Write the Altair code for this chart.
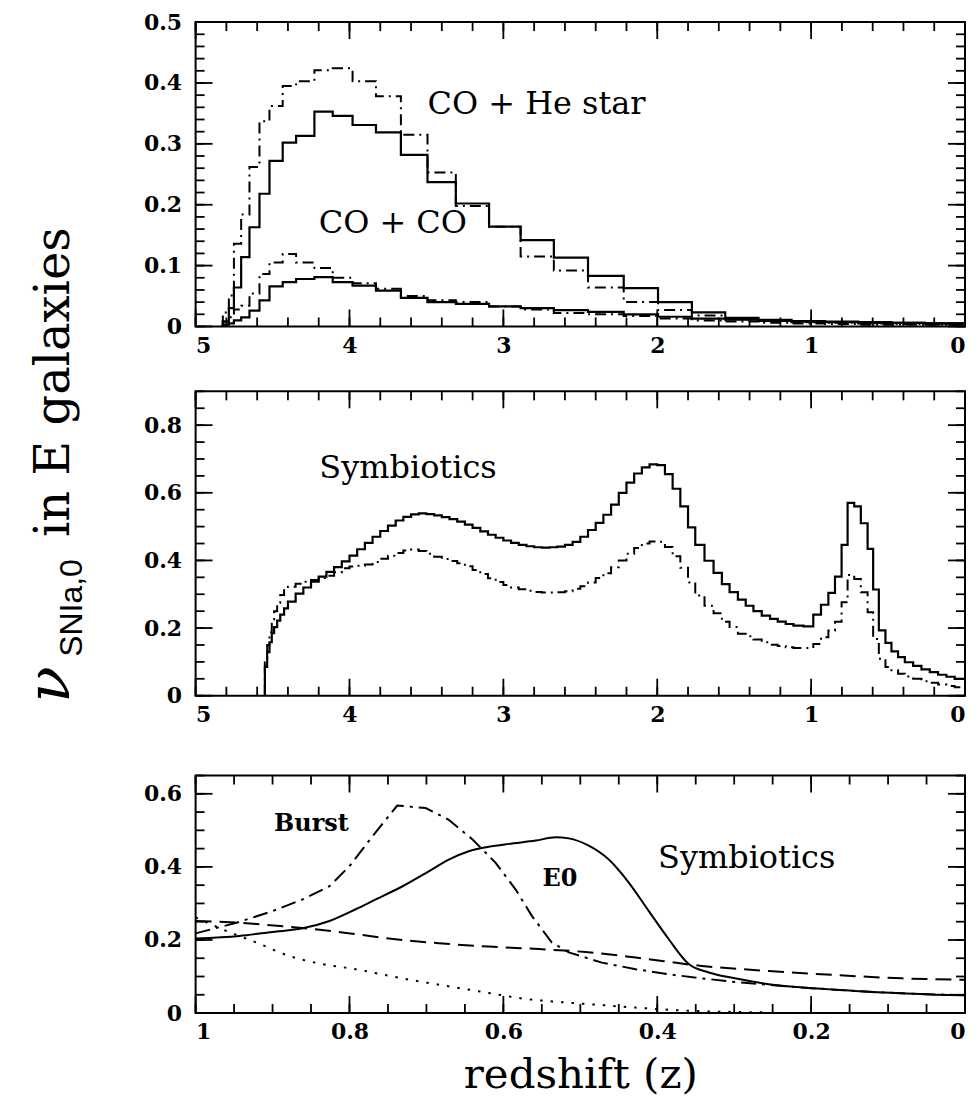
import altair as alt
import pandas as pd

# ---------------- data ----------------
# Panel 1 : histogram bin edges (redshift) and rates
P1_EDGES = [4.823, 4.784, 4.751, 4.704, 4.650, 4.585, 4.520, 4.434, 4.347, 4.228,
            4.109, 3.980, 3.828, 3.666, 3.493, 3.309, 3.093, 2.888, 2.672, 2.450,
            2.218, 1.995, 1.775, 1.558, 1.342, 1.127, 0.910, 0.694, 0.478, 0.262,
            0.045, 0.0]
HE_SOLID = [0.008, 0.030, 0.064, 0.114, 0.163, 0.218, 0.272, 0.302, 0.313, 0.353,
            0.346, 0.331, 0.319, 0.282, 0.237, 0.202, 0.164, 0.142, 0.113, 0.083,
            0.063, 0.040, 0.023, 0.014, 0.011, 0.009, 0.008, 0.007, 0.006, 0.005, 0.005]
HE_DASHDOT = [0.023, 0.051, 0.136, 0.184, 0.262, 0.337, 0.362, 0.395, 0.403, 0.421,
              0.424, 0.403, 0.378, 0.315, 0.253, 0.198, 0.164, 0.115, 0.092, 0.064,
              0.040, 0.027, 0.018, 0.012, 0.009, 0.007, 0.006, 0.005, 0.004, 0.003, 0.003]
CO_SOLID = [0.003, 0.005, 0.010, 0.015, 0.026, 0.043, 0.066, 0.073, 0.078, 0.081,
            0.073, 0.067, 0.059, 0.047, 0.040, 0.037, 0.033, 0.030, 0.027, 0.024,
            0.020, 0.016, 0.013, 0.011, 0.009, 0.008, 0.007, 0.006, 0.006, 0.005, 0.005]
CO_DASHDOT = [0.008, 0.015, 0.028, 0.034, 0.054, 0.086, 0.105, 0.119, 0.105, 0.096,
              0.080, 0.071, 0.062, 0.050, 0.043, 0.040, 0.033, 0.028, 0.022, 0.020,
              0.017, 0.013, 0.010, 0.008, 0.006, 0.005, 0.004, 0.003, 0.003, 0.003, 0.003]

# Panel 2 : symbiotics histograms
P2_EDGES = [4.55, 4.535, 4.52, 4.505, 4.49, 4.47, 4.45, 4.425, 4.40,
            4.35, 4.30, 4.25, 4.20, 4.15, 4.10, 4.05, 4.00, 3.95, 3.90,
            3.85, 3.80, 3.75, 3.70, 3.65, 3.60, 3.55, 3.50, 3.45, 3.40,
            3.35, 3.30, 3.25, 3.20, 3.15, 3.10, 3.05, 3.00, 2.95, 2.90,
            2.85, 2.80, 2.75, 2.70, 2.65, 2.60, 2.55, 2.50, 2.45, 2.40,
            2.35, 2.30, 2.25, 2.20, 2.15, 2.10, 2.05, 2.00, 1.95, 1.90,
            1.85, 1.80,
            1.753, 1.693, 1.634, 1.580, 1.530, 1.476, 1.425, 1.375, 1.321, 1.267,
            1.217, 1.165, 1.115, 1.050, 0.986, 0.936, 0.888, 0.845, 0.802, 0.763,
            0.720, 0.677, 0.633, 0.597, 0.560, 0.517, 0.478, 0.435, 0.391, 0.337,
            0.283, 0.229, 0.175, 0.121, 0.067, 0.0]
SYM_SOLID = [0.085, 0.129, 0.158, 0.185, 0.203, 0.222, 0.240, 0.258, 0.278, 0.302,
             0.320, 0.337, 0.352, 0.366, 0.380, 0.397, 0.414, 0.433, 0.452, 0.470,
             0.487, 0.503, 0.518, 0.529, 0.536, 0.539, 0.537, 0.533, 0.528, 0.522,
             0.515, 0.506, 0.496, 0.486, 0.476, 0.467, 0.459, 0.452, 0.446, 0.442,
             0.439, 0.438, 0.439, 0.441, 0.446, 0.455, 0.470, 0.490, 0.511, 0.535,
             0.565, 0.600, 0.630, 0.657, 0.675, 0.684, 0.682, 0.655, 0.612, 0.560,
             0.498, 0.446, 0.399, 0.363, 0.330, 0.306, 0.284, 0.266, 0.250, 0.237,
             0.227, 0.219, 0.212, 0.207, 0.205, 0.240, 0.269, 0.304, 0.352, 0.446,
             0.570, 0.560, 0.510, 0.434, 0.314, 0.193, 0.156, 0.131, 0.114, 0.099,
             0.088, 0.078, 0.070, 0.062, 0.056, 0.050]
SYM_DASHDOT = [0.099, 0.150, 0.188, 0.225, 0.250, 0.275, 0.298, 0.312, 0.322, 0.331,
               0.337, 0.342, 0.348, 0.355, 0.365, 0.377, 0.382, 0.384, 0.388, 0.395,
               0.405, 0.414, 0.422, 0.429, 0.432, 0.428, 0.420, 0.411, 0.404, 0.398,
               0.392, 0.383, 0.372, 0.360, 0.347, 0.336, 0.327, 0.320, 0.315, 0.310,
               0.307, 0.305, 0.305, 0.306, 0.309, 0.316, 0.324, 0.335, 0.348, 0.362,
               0.380, 0.400, 0.420, 0.437, 0.450, 0.456, 0.455, 0.440, 0.412, 0.378,
               0.335, 0.296, 0.266, 0.244, 0.219, 0.203, 0.183, 0.176, 0.166, 0.158,
               0.151, 0.147, 0.143, 0.141, 0.141, 0.153, 0.173, 0.193, 0.219, 0.276,
               0.357, 0.345, 0.306, 0.247, 0.168, 0.109, 0.085, 0.075, 0.065, 0.057,
               0.050, 0.043, 0.038, 0.033, 0.029, 0.025]

# Panel 3 : symbiotics, low redshift
E0_Z = [1.0, 0.943, 0.900, 0.861, 0.826, 0.792, 0.766, 0.731, 0.697, 0.671, 0.645,
        0.619, 0.593, 0.558, 0.532, 0.515, 0.489, 0.463, 0.437, 0.411, 0.385, 0.359,
        0.333, 0.299, 0.255, 0.212, 0.169, 0.125, 0.082, 0.039, 0.0]
E0_V = [0.204, 0.211, 0.222, 0.232, 0.252, 0.284, 0.311, 0.347, 0.388, 0.420, 0.443,
        0.455, 0.463, 0.472, 0.481, 0.478, 0.458, 0.420, 0.357, 0.279, 0.202, 0.134,
        0.111, 0.095, 0.079, 0.070, 0.064, 0.058, 0.054, 0.050, 0.049]
BURST_Z = [1.0, 0.947, 0.900, 0.861, 0.826, 0.800, 0.770, 0.738, 0.701, 0.671, 0.640,
           0.610, 0.584, 0.563, 0.537, 0.515, 0.472, 0.428, 0.385, 0.342, 0.299, 0.255,
           0.212, 0.169, 0.125, 0.082, 0.039, 0.0]
BURST_V = [0.218, 0.247, 0.279, 0.311, 0.347, 0.402, 0.484, 0.568, 0.561, 0.529, 0.475,
           0.411, 0.338, 0.266, 0.193, 0.166, 0.138, 0.120, 0.106, 0.095, 0.085, 0.077,
           0.070, 0.064, 0.058, 0.054, 0.051, 0.049]
DASH_Z = [1.0, 0.943, 0.879, 0.814, 0.749, 0.684, 0.619, 0.554, 0.493, 0.428, 0.342,
          0.255, 0.169, 0.082, 0.0]
DASH_V = [0.252, 0.247, 0.236, 0.222, 0.204, 0.191, 0.182, 0.175, 0.167, 0.152, 0.129,
          0.115, 0.104, 0.095, 0.091]
DOT_Z = [1.0, 0.965, 0.921, 0.878, 0.835, 0.792, 0.749, 0.705, 0.662, 0.619, 0.576,
         0.532, 0.493, 0.428, 0.385, 0.342, 0.299, 0.255]
DOT_V = [0.262, 0.229, 0.193, 0.156, 0.134, 0.120, 0.102, 0.085, 0.070, 0.055, 0.040,
         0.031, 0.025, 0.015, 0.009, 0.005, 0.003, 0.002]

# Axis labels
P1_XLABELS = [5, 4, 3, 2, 1, 0]
P1_YLABELS = [0, 0.1, 0.2, 0.3, 0.4, 0.5]
P2_YLABELS = [0, 0.2, 0.4, 0.6, 0.8]
P3_XLABELS = [1, 0.8, 0.6, 0.4, 0.2, 0]
P3_YLABELS = [0, 0.2, 0.4, 0.6]

# ---------------- helpers ----------------
W = 771
SERIF = "DejaVu Serif"
DASHDOT = [11, 5, 2, 5]


def step_df(edges, vals):
    z = [edges[0]]
    v = [0.0]
    for k, val in enumerate(vals):
        z += [edges[k], edges[k + 1]]
        v += [val, val]
    return pd.DataFrame({"z": z, "v": v, "i": list(range(len(z)))})


def curve_df(zs, vs):
    return pd.DataFrame({"z": zs, "v": vs, "i": list(range(len(zs)))})


def panel(H, xdom, ydom, xlabels, ylabels, xmaj, xmin, ymaj, ymin,
          lines, texts, xtitle=None, spacer=0):
    xs = alt.Scale(domain=xdom, reverse=True, nice=False, zero=False)
    ys = alt.Scale(domain=ydom, nice=False, zero=False)
    xa = alt.Axis(values=xlabels, format="~g", labelPadding=9, domain=False,
                  ticks=False, grid=False, labelFont=SERIF, labelFontSize=22,
                  labelFontWeight="bold", labelColor="black",
                  titleFont=SERIF, titleFontSize=42, titleFontWeight="normal",
                  titleColor="black", titlePadding=12)
    ya = alt.Axis(values=ylabels, format="~g", labelPadding=14, domain=False,
                  ticks=False, grid=False, labelFont=SERIF, labelFontSize=22,
                  labelFontWeight="bold", labelColor="black")
    X = alt.X("z:Q", scale=xs, axis=xa, title=xtitle)
    Y = alt.Y("v:Q", scale=ys, axis=ya, title=None)

    layers = []
    for df, dash, sw, interp in lines:
        kw = dict(color="black", strokeWidth=sw, interpolate=interp)
        if dash is not None:
            kw["strokeDash"] = dash
        layers.append(alt.Chart(df).mark_line(**kw).encode(x=X, y=Y, order="i:Q"))

    for label, z, v, size, weight in texts:
        tdf = pd.DataFrame({"z": [z], "v": [v], "label": [label]})
        layers.append(alt.Chart(tdf).mark_text(
            align="left", baseline="alphabetic", font=SERIF, fontSize=size,
            fontWeight=weight, color="black").encode(x=X, y=Y, text="label:N"))

    for vals, L in [(xmaj, 17), (xmin, 9)]:
        tdf = pd.DataFrame({"z": vals})
        base = alt.Chart(tdf).mark_rule(color="black", strokeWidth=1.8)
        layers.append(base.encode(x=X, y=alt.value(H), y2=alt.value(H - L)))
        layers.append(base.encode(x=X, y=alt.value(0), y2=alt.value(L)))
    for vals, L in [(ymaj, 17), (ymin, 9)]:
        tdf = pd.DataFrame({"v": vals})
        base = alt.Chart(tdf).mark_rule(color="black", strokeWidth=1.8)
        layers.append(base.encode(y=Y, x=alt.value(0), x2=alt.value(L)))
        layers.append(base.encode(y=Y, x=alt.value(W), x2=alt.value(W - L)))

    if spacer:
        layers.append(alt.Chart(pd.DataFrame({"a": [0]})).mark_rule(
            color="white", strokeWidth=1).encode(
            x=alt.value(W / 2), y=alt.value(-spacer), y2=alt.value(-4)))

    return alt.layer(*layers).properties(
        width=W, height=H,
        view=alt.ViewBackground(stroke="black", strokeWidth=2))


# ---------------- panels ----------------
p1 = panel(
    305, [0, 5], [0, 0.5], P1_XLABELS, P1_YLABELS,
    [0, 1, 2, 3, 4, 5], [round(k * 0.2, 2) for k in range(26)],
    P1_YLABELS, [round(k * 0.02, 2) for k in range(26)],
    [(step_df(P1_EDGES, HE_SOLID), None, 2.2, "linear"),
     (step_df(P1_EDGES, HE_DASHDOT), DASHDOT, 2.0, "linear"),
     (step_df(P1_EDGES, CO_SOLID), None, 2.2, "linear"),
     (step_df(P1_EDGES, CO_DASHDOT), DASHDOT, 2.0, "linear")],
    [("CO + He star", 3.493, 0.349, 32, "normal"),
     ("CO + CO", 4.200, 0.153, 32, "normal")])

p2 = panel(
    305, [0, 5], [0, 0.9], P1_XLABELS, P2_YLABELS,
    [0, 1, 2, 3, 4, 5], [round(k * 0.2, 2) for k in range(26)],
    P2_YLABELS, [round(k * 0.05, 2) for k in range(19)],
    [(step_df(P2_EDGES, SYM_SOLID), None, 2.2, "linear"),
     (step_df(P2_EDGES, SYM_DASHDOT), DASHDOT, 2.0, "linear")],
    [("Symbiotics", 4.196, 0.645, 32, "normal")])

p3 = panel(
    238, [0, 1], [0, 0.65], P3_XLABELS, P3_YLABELS,
    [0, 0.2, 0.4, 0.6, 0.8, 1.0], [round(k * 0.05, 2) for k in range(21)],
    P3_YLABELS, [round(k * 0.05, 2) for k in range(14)],
    [(curve_df(E0_Z, E0_V), None, 2.0, "monotone"),
     (curve_df(BURST_Z, BURST_V), [15, 6, 3, 6], 2.0, "linear"),
     (curve_df(DASH_Z, DASH_V), [16, 8], 2.0, "monotone"),
     (curve_df(DOT_Z, DOT_V), [2.5, 8], 2.0, "monotone")],
    [("Burst", 0.898, 0.497, 24, "bold"),
     ("E0", 0.549, 0.347, 24, "bold"),
     ("Symbiotics", 0.399, 0.397, 32, "normal")],
    xtitle="redshift (z)", spacer=15)

panels = alt.vconcat(p1, p2, p3, spacing=32)

# ---------------- rotated y title ----------------
one = pd.DataFrame({"a": [0]})
t_nu = alt.Chart(one).mark_text(
    text="ν", angle=270, align="left", baseline="alphabetic",
    font=SERIF, fontStyle="italic", fontSize=60, color="black").encode(
    x=alt.value(57), y=alt.value(682))
t_sub = alt.Chart(one).mark_text(
    text="SNIa,0", angle=270, align="left", baseline="alphabetic",
    font="Liberation Sans", fontSize=32, color="black").encode(
    x=alt.value(70), y=alt.value(636))
t_main = alt.Chart(one).mark_text(
    text="in E galaxies", angle=270, align="left", baseline="alphabetic",
    font=SERIF, fontSize=48, color="black").encode(
    x=alt.value(57), y=alt.value(516))
title_chart = alt.layer(t_nu, t_sub, t_main).properties(width=129, height=700)

chart = alt.hconcat(title_chart, panels, spacing=0).properties(
    padding={"left": 3, "top": 1, "right": 0, "bottom": 0},
    background="white",
).configure_view(stroke="transparent")

chart.save("out.html", embed_options={"renderer": "svg", "actions": False})
